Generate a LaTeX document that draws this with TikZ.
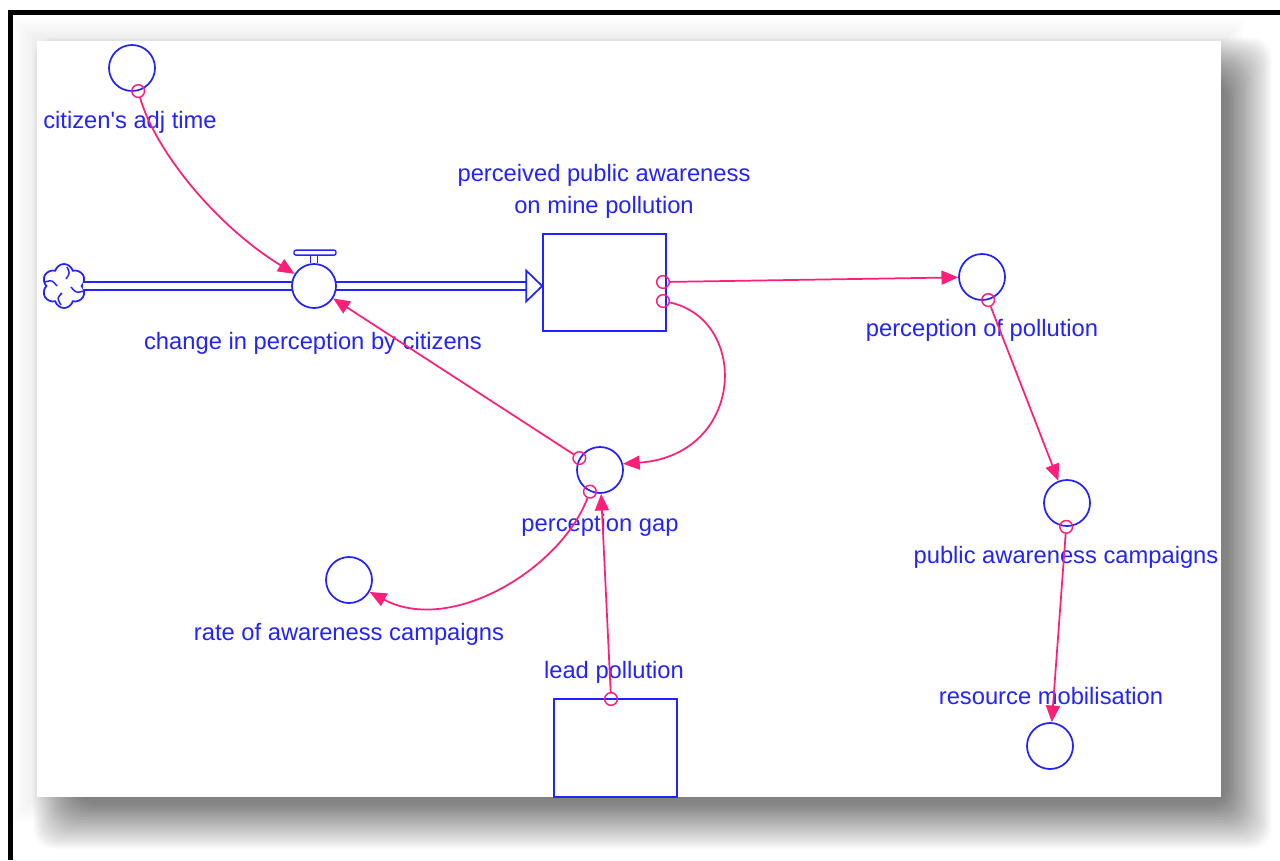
\documentclass[tikz,border=0pt]{standalone}
\usepackage{fontspec}
\setmainfont{Liberation Sans}
\usetikzlibrary{arrows.meta,calc,shapes.symbols}
\definecolor{vblue}{RGB}{35,35,255}
\definecolor{vpink}{RGB}{255,30,120}
\begin{document}
\begin{tikzpicture}[x=0.75pt,y=-0.75pt,
  flowline/.style={draw=vblue, line width=1.3pt},
  auxnode/.style={circle, flowline, fill=white, minimum size=34.5pt, inner sep=0pt},
  stocknode/.style={rectangle, flowline, fill=white, minimum width=92.25pt, minimum height=72.75pt, inner sep=0pt},
  tapnode/.style={circle, draw=vpink, line width=1.1pt, minimum size=9.5pt, inner sep=0pt},
  linkarrow/.style={draw=vpink, line width=1.3pt, -{Triangle[length=12.5pt,width=10.5pt]}},
  vartext/.style={text=vblue, font=\fontsize{17.8}{24}\selectfont, inner sep=0pt},
  varlabel/.style={vartext, text height=12.5pt, text depth=3.5pt},
]
\useasboundingbox (0,0) rectangle (1280,860);

% soft glow and drop shadow of the sheet
\foreach \k in {0,...,9} {
  \fill[black, opacity=0.008] ({37-2.5*\k},{41-2.5*\k}) rectangle ({1221+2.5*\k},{797+2.5*\k});
}
\foreach \k in {0,...,29} {
  \fill[black, opacity=0.02, rounded corners=15pt]
    ({77-1.5*\k},{81-1.5*\k}) rectangle ({1228+1.5*\k},{805+1.5*\k});
}
% the sheet and the outer frame
\fill[white] (37,41) rectangle (1221,797);
\draw[line width=3.75pt, line join=miter] (10.5,860) -- (10.5,12.5) -- (1280,12.5);

% stocks and source cloud
\node[stocknode] (ppa) at (604.5,282.5) {};
\node[stocknode, minimum height=73.5pt] (lp) at (615.5,748) {};
\node[cloud, cloud puffs=6, aspect=1, draw=vblue, line width=1.3pt, fill=white,
      minimum width=33pt, minimum height=33pt, inner sep=0pt] (src) at (64,286) {};
\draw[flowline, line width=1.1pt]
  (67,267) .. controls (70,273) .. (66,279)
  (45,282) .. controls (52,280) .. (57,286)
  (61,305) .. controls (57,298) .. (62,293)
  (84,291) .. controls (76,293) .. (71,287);

% flow pipe into the stock
\coordinate (pipeend) at (src.east -| ppa.west);
\draw[flowline, double=white, double distance=4.6pt] (src.east) -- ($(pipeend)+(-15,0)$);
\draw[flowline, fill=white, line join=miter]
  ($(pipeend)+(-16,-15.5)$) -- (pipeend) -- ($(pipeend)+(-16,15.5)$) -- cycle;

% valve
\node[auxnode, minimum size=33pt] (valve) at (314,286) {};
\draw[flowline, line width=1pt]
  ($(valve.north)+(-3.5,0)$) -- ++(0,-8)
  ($(valve.north)+(3.5,0)$) -- ++(0,-8);
\draw[flowline, line width=1pt, rounded corners=1.5pt]
  ($(valve.north)+(-20,-8)$) rectangle ($(valve.north)+(22,-13)$);

% auxiliaries
\node[auxnode] (cat) at (132,68) {};
\node[auxnode] (pop) at (982,277) {};
\node[auxnode] (pg) at (600,470) {};
\node[auxnode] (rac) at (349,580) {};
\node[auxnode] (pac) at (1067,503) {};
\node[auxnode] (rm) at (1050,746) {};

% labels
\node[varlabel] (lcat) at (130,122) {citizen\textquotesingle s adj time};
\node[vartext, align=center] (lppa) at (604,191) {perceived public awareness\\on mine pollution};
\node[varlabel] (lvalve) at (313,343) {change in perception by citizens};
\node[varlabel] (lpop) at (982,330) {perception of pollution};
\node[varlabel] (lpg) at (600,525) {perception gap};
\node[varlabel] (lrac) at (349,634) {rate of awareness campaigns};
\node[varlabel] (llp) at (614,672) {lead pollution};
\node[varlabel] (lpac) at (1066,557) {public awareness campaigns};
\node[varlabel] (lrm) at (1051,698) {resource mobilisation};

% connector taps
\node[tapnode] (tcat) at (cat.-75) {};
\node[tapnode] (tppa1) at (663,282) {};
\node[tapnode] (tppa2) at (663,301) {};
\node[tapnode] (tpop) at (pop.-75) {};
\node[tapnode] (tpac) at (pac.-92) {};
\node[tapnode] (tpg1) at (pg.150) {};
\node[tapnode] (tpg2) at (pg.-115) {};
\node[tapnode] (tlp) at (611,699) {};

% connectors
\draw[linkarrow] (tcat) .. controls (155,150) and (215,225) .. (valve.148);
\draw[linkarrow] (tpg1) -- (valve);
\draw[linkarrow] (tppa1) -- (pop);
\draw[linkarrow] (tppa2) .. controls (750,320) and (745,455) .. (pg.15);
\draw[linkarrow] (tpop) -- (pac);
\draw[linkarrow] (tpac) -- (rm);
\draw[linkarrow] (tlp) -- (pg);
\draw[linkarrow] (tpg2) .. controls (560,570) and (450,635) .. (rac.-30);
\end{tikzpicture}
\end{document}
